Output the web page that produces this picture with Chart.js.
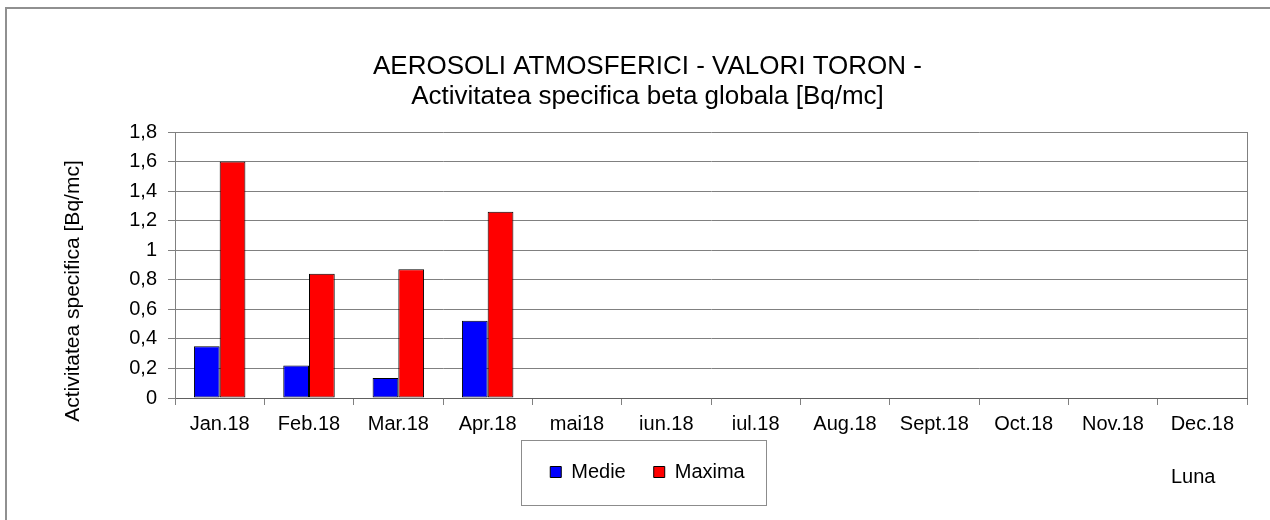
<!DOCTYPE html>
<html>
<head>
<meta charset="utf-8">
<script src="https://cdn.jsdelivr.net/npm/chart.js@4/dist/chart.umd.min.js"></script>
<style>
  html, body { margin: 0; padding: 0; background: #fff; }
  #wrap { width: 1270px; height: 520px; }
</style>
</head>
<body>
<div id="wrap"><canvas id="grafic"></canvas></div>
<script>
// datele din grafic
var luni = ['Jan.18', 'Feb.18', 'Mar.18', 'Apr.18', 'mai18', 'iun.18', 'iul.18', 'Aug.18', 'Sept.18', 'Oct.18', 'Nov.18', 'Dec.18'];
var medie = [0.35, 0.22, 0.136, 0.523, null, null, null, null, null, null, null, null];
var maxima = [1.6, 0.84, 0.872, 1.26, null, null, null, null, null, null, null, null];
var valoriY = [0, 0.2, 0.4, 0.6, 0.8, 1, 1.2, 1.4, 1.6, 1.8];

var font = "'Liberation Sans', Arial, sans-serif";
Chart.defaults.font.family = font;
Chart.defaults.color = '#000';

// rama, chenar legenda si textele de axe
var decor = {
    id: 'decor',
    beforeDraw: function(chart) {
        var ctx = chart.ctx;
        ctx.save();
        ctx.strokeStyle = '#909090';
        ctx.lineWidth = 2;
        ctx.strokeRect(6, 8, 1300, 600);
        ctx.restore();
    },
    afterDraw: function(chart) {
        var ctx = chart.ctx;
        var a = chart.chartArea;
        ctx.save();
        // marginea din dreapta a zonei de grafic
        ctx.strokeStyle = '#808080';
        ctx.lineWidth = 1;
        ctx.beginPath();
        ctx.moveTo(Math.round(a.right) + 0.5, a.top);
        ctx.lineTo(Math.round(a.right) + 0.5, a.bottom);
        ctx.stroke();
        // chenar legenda
        var hb = chart.legend.legendHitBoxes;
        if (hb && hb.length) {
            var cy = hb[0].top + hb[0].height / 2;
            var l = hb[0].left - 29;
            var r = hb[hb.length - 1].left + hb[hb.length - 1].width + 22;
            ctx.strokeStyle = '#8c8c8c';
            ctx.strokeRect(Math.round(l) + 0.5, Math.round(cy - 32) + 0.5, Math.round(r - l), 65);
        }
        ctx.fillStyle = '#000';
        ctx.font = '20px ' + font;
        ctx.textAlign = 'left';
        ctx.textBaseline = 'middle';
        ctx.fillText('Luna', a.right - 76, 477);
        // titlul axei Y
        ctx.font = '21px ' + font;
        ctx.translate(73, a.bottom - 107);
        ctx.rotate(-Math.PI / 2);
        ctx.textAlign = 'center';
        ctx.fillText('Activitatea specifica [Bq/mc]', 0, 0);
        ctx.restore();
    }
};

var grafic = new Chart(document.getElementById('grafic'), {
    type: 'bar',
    data: {
        labels: luni,
        datasets: [{
            label: 'Medie',
            data: medie,
            backgroundColor: '#0000ff',
            borderColor: '#000',
            borderWidth: 1,
            borderSkipped: false
        }, {
            label: 'Maxima',
            data: maxima,
            backgroundColor: '#ff0000',
            borderColor: '#000',
            borderWidth: 1,
            borderSkipped: false
        }]
    },
    options: {
        responsive: true,
        maintainAspectRatio: false,
        animation: false,
        datasets: { bar: { categoryPercentage: 0.576, barPercentage: 1 } },
        layout: { padding: { left: 48, right: 23, top: 10, bottom: 28 } },
        plugins: {
            title: {
                display: true,
                text: ['AEROSOLI ATMOSFERICI - VALORI TORON -', 'Activitatea specifica beta globala [Bq/mc]'],
                font: { size: 26, weight: 'normal', lineHeight: 30 / 26 },
                color: '#000',
                padding: { top: 42, bottom: 20 }
            },
            legend: {
                position: 'bottom',
                labels: {
                    boxWidth: 11,
                    boxHeight: 11,
                    padding: 28,
                    font: { size: 20 },
                    color: '#000'
                }
            },
            tooltip: { enabled: false }
        },
        scales: {
            x: {
                afterFit: function(scale) { scale.height = 36; },
                grid: { display: true, drawOnChartArea: false, offset: true, tickLength: 7, color: '#808080' },
                border: { color: '#606060' },
                ticks: { font: { size: 20 }, padding: 7, maxRotation: 0, autoSkip: false }
            },
            y: {
                min: 0,
                max: 1.8,
                afterFit: function(scale) { scale.width = 127; },
                afterBuildTicks: function(scale) {
                    scale.ticks = valoriY.map(function(v) { return { value: v }; });
                },
                grid: { color: '#808080', tickLength: 7 },
                border: { color: '#808080' },
                ticks: {
                    font: { size: 20 },
                    padding: 11,
                    callback: function(v) {
                        return String(Number(v.toFixed(1))).replace('.', ',');
                    }
                }
            }
        }
    },
    plugins: [decor]
});
</script>
</body>
</html>
